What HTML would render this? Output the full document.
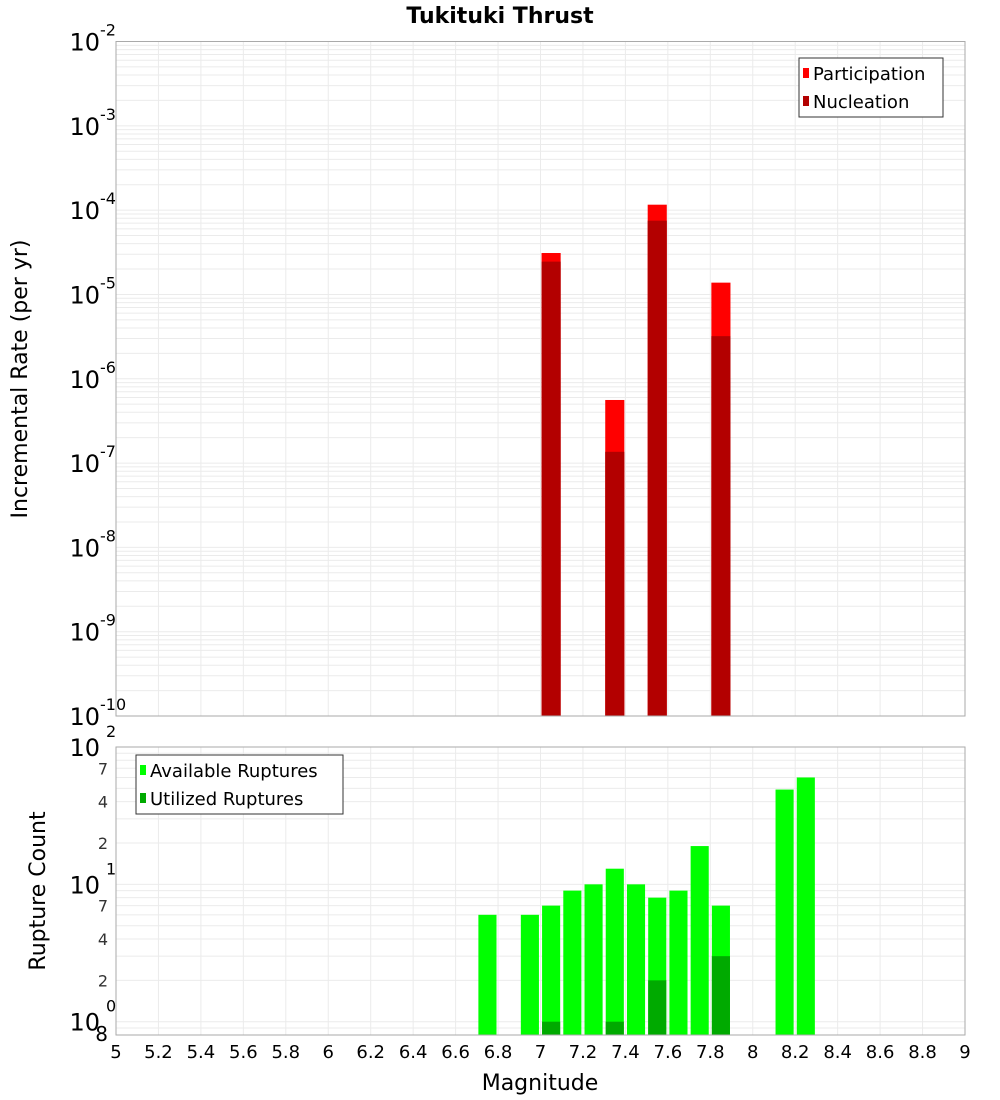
<!DOCTYPE html>
<html><head><meta charset="utf-8"><style>
body{margin:0;background:#fff;}
svg{display:block;font-family:"DejaVu Sans","Liberation Sans",sans-serif;}
</style></head><body>
<svg id="chart" width="1000" height="1100">
<text x="500" y="23" text-anchor="middle" font-size="22" font-weight="bold">Tukituki Thrust</text>
<g id="topPlot"></g>
<g id="botPlot"></g>
<text transform="translate(27,379) rotate(-90)" text-anchor="middle" font-size="22">Incremental Rate (per yr)</text>
<text transform="translate(45,891) rotate(-90)" text-anchor="middle" font-size="22">Rupture Count</text>
<text x="540" y="1090" text-anchor="middle" font-size="22">Magnitude</text>
</svg>
<script>
const rateMags = [7.05, 7.35, 7.55, 7.85];
const participation = [3.1e-5, 5.6e-7, 1.16e-4, 1.38e-5];
const nucleation = [2.45e-5, 1.36e-7, 7.5e-5, 3.2e-6];
const countMags = [6.75, 6.95, 7.05, 7.15, 7.25, 7.35, 7.45, 7.55, 7.65, 7.75, 7.85, 8.15, 8.25];
const available = [6, 6, 7, 9, 10, 13, 10, 8, 9, 19, 7, 49, 60];
const utilMags = [7.05, 7.35, 7.55, 7.85];
const utilized = [1, 1, 2, 3];
const xTicks = [5,5.2,5.4,5.6,5.8,6,6.2,6.4,6.6,6.8,7,7.2,7.4,7.6,7.8,8,8.2,8.4,8.6,8.8,9];
const rateExps = [-2,-3,-4,-5,-6,-7,-8,-9,-10];
const countMinor = [2,4,7,20,40,70];

const NS="http://www.w3.org/2000/svg";
function mk(parent,tag,attrs){const e=document.createElementNS(NS,tag);for(const k in attrs)e.setAttribute(k,attrs[k]);parent.appendChild(e);return e;}
const L=116,R=965;
const xs=m=>L+(m-5)/4*(R-L);
const BW=0.09;
const T0=41.5,T1=716;
const yT=v=>T0+(-2-Math.log10(v))/8*(T1-T0);
const B0=747,B1=1035,bmin=Math.log10(0.8),bmax=2;
const yB=v=>B1-(Math.log10(v)-bmin)/(bmax-bmin)*(B1-B0);

const topG=document.getElementById('topPlot'), botG=document.getElementById('botPlot');
function grid(g,y0,y1,ys){
  for(const m of xTicks){const l=mk(g,'line',{x1:xs(m),x2:xs(m),y1:y0,y2:y1,stroke:'#ebebeb'});
    
    }
  for(const y of ys){const l=mk(g,'line',{x1:L,x2:R,y1:y,y2:y,stroke:'#ebebeb'});
    
    }
}
let ty=[];
for(let e=-10;e<-2;e++)for(let k=1;k<10;k++)ty.push(yT(k*Math.pow(10,e)));
grid(topG,T0,T1,ty);
let by=[];
for(let e=-1;e<2;e++)for(let k=1;k<10;k++){const v=k*Math.pow(10,e);if(v>=0.8)by.push(yB(v));}
grid(botG,B0,B1,by);

rateMags.forEach((m,i)=>{
  const x=xs(m-BW/2),w=xs(m+BW/2)-x;
  const p=mk(topG,'rect',{x:x,y:yT(participation[i]),width:w,height:T1-yT(participation[i]),fill:'#ff0000'});
  
  
  const n=mk(topG,'rect',{x:x,y:yT(nucleation[i]),width:w,height:T1-yT(nucleation[i]),fill:'#b30000'});
  
  
});
countMags.forEach((m,i)=>{
  const x=xs(m-BW/2)+0.5,w=xs(m+BW/2)-x-0.5;
  const r=mk(botG,'rect',{x:x,y:yB(available[i]),width:w,height:B1-yB(available[i]),fill:'#00ff00'});
  
  
});
utilMags.forEach((m,i)=>{
  const x=xs(m-BW/2)+0.5,w=xs(m+BW/2)-x-0.5;
  const r=mk(botG,'rect',{x:x,y:yB(utilized[i]),width:w,height:B1-yB(utilized[i]),fill:'#00aa00'});
  
  
});
for(const [g,y0,y1] of [[topG,T0,T1],[botG,B0,B1]]){
  const f=mk(g,'rect',{x:L,y:y0,width:R-L,height:y1-y0,fill:'none',stroke:'#aaa'});
  
  
}
rateExps.forEach(e=>{
  const y=yT(Math.pow(10,e));
  const t=mk(topG,'text',{x:100,y:y+9,'text-anchor':'end','font-size':24});
  t.textContent='10';
  
  
  const s=mk(topG,'text',{x:100,y:y-6,'font-size':16});
  s.textContent=String(e);
  
  
});
[0,1,2].forEach(e=>{
  const y=yB(Math.pow(10,e));
  const t=mk(botG,'text',{x:100,y:y+9,'text-anchor':'end','font-size':24});
  t.textContent='10';
  
  
  const s=mk(botG,'text',{x:106,y:y-10,'font-size':16});
  s.textContent=String(e);
  
  
});
countMinor.concat([0.8]).forEach(v=>{
  const t=mk(botG,'text',{x:108,y:yB(v)+6,'text-anchor':'end','font-size':v===0.8?20:16,fill:v===0.8?'#000':'#333'});
  t.textContent=v===0.8?'8':String(v>=10?v/10:v);
  
  
});
xTicks.forEach(m=>{
  const t=mk(botG,'text',{x:xs(m),y:1058,'text-anchor':'middle','font-size':18});
  t.textContent=String(m);
  
  
});
function legend(g,x,y,w,h,items,name){
  const b=mk(g,'rect',{x:x,y:y,width:w,height:h,fill:'#fff',stroke:'#333'});
  
  
  items.forEach((it,i)=>{
    const cy=y+15+i*28;
    const s=mk(g,'rect',{x:x+4,y:cy-5,width:6,height:10,fill:it[1]});
    
    
    const t=mk(g,'text',{x:x+14,y:cy+7,'font-size':18});
    t.textContent=it[0];
    
    
  });
}
legend(topG,799,58,144,59,[['Participation','#ff0000'],['Nucleation','#b30000']],'rate-legend');
legend(botG,136,755,207,59,[['Available Ruptures','#00ff00'],['Utilized Ruptures','#00aa00']],'count-legend');
</script>
</body></html>
